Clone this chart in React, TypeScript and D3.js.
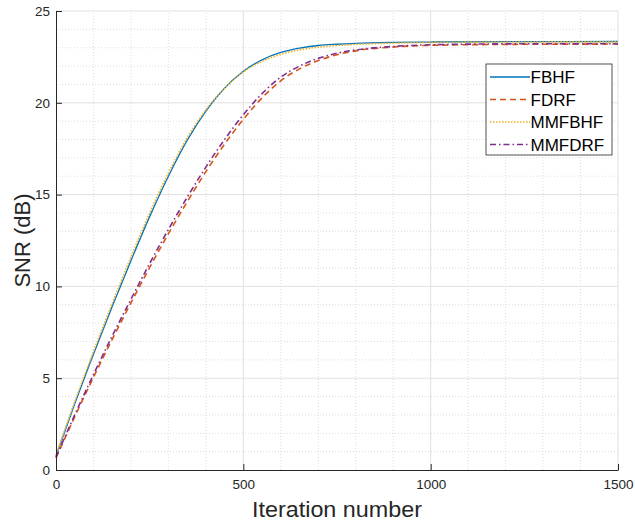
import React, { useEffect, useRef } from "react";
import * as d3 from "d3";

// iteration numbers where the curves were read
const iterations = [0, 50, 100, 150, 200, 250, 300, 350, 400, 450, 500, 550, 600, 650, 700, 750, 800, 900, 1000, 1200, 1500];

const fbhf = [0.75, 3.6, 6.3, 8.9, 11.4, 13.8, 16.0, 17.95, 19.55, 20.8, 21.72, 22.34, 22.74, 22.98, 23.12, 23.19, 23.24, 23.29, 23.31, 23.33, 23.34];
const fdrf = [0.65, 2.9, 5.05, 7.12, 9.1, 11.03, 12.87, 14.6, 16.25, 17.75, 19.1, 20.27, 21.2, 21.85, 22.3, 22.62, 22.83, 23.04, 23.13, 23.18, 23.2];
const mmfbhf = [0.8, 3.72, 6.45, 9.08, 11.6, 14.0, 16.18, 18.08, 19.62, 20.8, 21.68, 22.26, 22.64, 22.88, 23.03, 23.12, 23.18, 23.25, 23.29, 23.31, 23.32];
const mmfdrf = [0.7, 3.0, 5.2, 7.3, 9.3, 11.25, 13.1, 14.85, 16.5, 18.0, 19.35, 20.5, 21.4, 22.0, 22.42, 22.7, 22.88, 23.07, 23.16, 23.21, 23.22];

const seriesNames = ["FBHF", "FDRF", "MMFBHF", "MMFDRF"];
const xTicks = [0, 500, 1000, 1500];
const yTicks = [0, 5, 10, 15, 20, 25];

const App = () => {
  const svgRef = useRef<SVGSVGElement>(null);

  useEffect(() => {
    const W = 635;
    const H = 523;
    const m = { left: 56, right: 17, top: 11, bottom: 53 };
    const svg = d3.select(svgRef.current).attr("width", W).attr("height", H);
    svg.selectAll("*").remove();

    const x = d3.scaleLinear().domain([0, 1500]).range([m.left, W - m.right]);
    const y = d3.scaleLinear().domain([0, 25]).range([H - m.bottom, m.top]);
    const font = "'Liberation Sans', Arial, sans-serif";
    const axisColor = "#262626";

    // minor grid
    const g = svg.append("g");
    g.selectAll(".mx")
      .data(d3.range(100, 1500, 100).filter(v => v % 500 !== 0))
      .join("line")
      .attr("x1", d => x(d)).attr("x2", d => x(d))
      .attr("y1", y(0)).attr("y2", y(25))
      .attr("stroke", "#d4d4d4").attr("stroke-width", 0.8).attr("stroke-dasharray", "1,2");
    g.selectAll(".my")
      .data(d3.range(1, 25, 1).filter(v => v % 5 !== 0))
      .join("line")
      .attr("x1", x(0)).attr("x2", x(1500))
      .attr("y1", d => y(d)).attr("y2", d => y(d))
      .attr("stroke", "#d4d4d4").attr("stroke-width", 0.8).attr("stroke-dasharray", "1,2");

    // major grid
    g.selectAll(".gx")
      .data(xTicks.slice(1))
      .join("line")
      .attr("x1", d => x(d)).attr("x2", d => x(d))
      .attr("y1", y(0)).attr("y2", y(25))
      .attr("stroke", "#e0e0e0").attr("stroke-width", 1);
    g.selectAll(".gy")
      .data(yTicks.slice(1))
      .join("line")
      .attr("x1", x(0)).attr("x2", x(1500))
      .attr("y1", d => y(d)).attr("y2", d => y(d))
      .attr("stroke", "#e0e0e0").attr("stroke-width", 1);

    // curves
    const styles = [
      { color: "#0072BD", dash: null, width: 1.3 },
      { color: "#D95319", dash: "6,4", width: 1.6 },
      { color: "#EDB120", dash: "1.5,1.5", width: 1.6 },
      { color: "#7E2F8E", dash: "6,3,1.5,3", width: 1.6 },
    ];
    const allSeries = [fbhf, fdrf, mmfbhf, mmfdrf];
    const line = d3.line<number>()
      .x((_, i) => x(iterations[i]))
      .y(d => y(d))
      .curve(d3.curveMonotoneX);

    allSeries.forEach((s, i) => {
      svg.append("path")
        .datum(s)
        .attr("d", line)
        .attr("fill", "none")
        .attr("stroke", styles[i].color)
        .attr("stroke-width", styles[i].width)
        .attr("stroke-dasharray", styles[i].dash);
    });

    // axes
    const xAxis = svg.append("g")
      .attr("transform", `translate(0,${y(0)})`)
      .call(d3.axisBottom(x).tickValues(xTicks).tickFormat(d3.format("d")).tickSizeInner(-6).tickSizeOuter(0).tickPadding(9));
    const yAxis = svg.append("g")
      .attr("transform", `translate(${x(0)},0)`)
      .call(d3.axisLeft(y).tickValues(yTicks).tickFormat(d3.format("d")).tickSizeInner(-6).tickSizeOuter(0).tickPadding(6));
    [xAxis, yAxis].forEach(a => {
      a.select(".domain").attr("stroke", axisColor).attr("stroke-width", 1);
      a.selectAll(".tick line").attr("stroke", axisColor);
      a.selectAll(".tick text").attr("fill", axisColor).style("font-family", font).style("font-size", "13.5px");
    });

    // axis labels
    svg.append("text")
      .attr("x", (x(0) + x(1500)) / 2).attr("y", 517)
      .attr("text-anchor", "middle")
      .attr("fill", axisColor)
      .attr("textLength", 170)
      .attr("lengthAdjust", "spacingAndGlyphs")
      .style("font-family", font).style("font-size", "22.5px")
      .text("Iteration number");
    svg.append("text")
      .attr("transform", `translate(30,${(y(0) + y(25)) / 2}) rotate(-90)`)
      .attr("text-anchor", "middle")
      .attr("fill", axisColor)
      .style("font-family", font).style("font-size", "22px")
      .text("SNR (dB)");

    // legend
    const lg = svg.append("g").attr("transform", "translate(486,64)");
    lg.append("rect")
      .attr("width", 126).attr("height", 91)
      .attr("fill", "white").attr("stroke", axisColor).attr("stroke-width", 0.8);
    seriesNames.forEach((name, i) => {
      const cy = 13 + i * 22.5;
      lg.append("line")
        .attr("x1", 4).attr("x2", 44).attr("y1", cy).attr("y2", cy)
        .attr("stroke", styles[i].color)
        .attr("stroke-width", styles[i].width)
        .attr("stroke-dasharray", styles[i].dash);
      lg.append("text")
        .attr("x", 44.5).attr("y", cy + 6)
        .attr("fill", "#000")
        .style("font-family", font).style("font-size", "17px")
        .text(name);
    });
  }, []);

  return (
    <div style={{ position: "absolute", left: 0, top: 0 }}>
      <svg ref={svgRef}></svg>
    </div>
  );
};

export default App;
